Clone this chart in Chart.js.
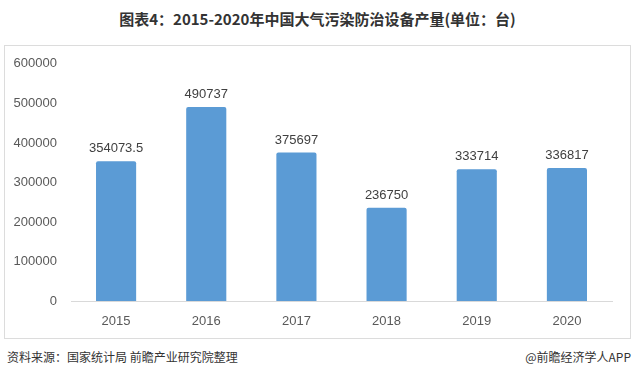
<!DOCTYPE html>
<html><head><meta charset="utf-8">
<script src="https://cdn.jsdelivr.net/npm/chart.js@4.4.1/dist/chart.umd.min.js"></script>
<style>
html,body{margin:0;padding:0;background:#fff;width:635px;height:382px;overflow:hidden;font-family:"Noto Sans CJK SC",sans-serif;}
#title{position:absolute;left:0;top:8px;width:635px;text-align:center;font-size:15px;font-weight:bold;color:#333;}
#frame{position:absolute;left:4px;top:45px;width:625px;height:292px;border:1px solid #dcdcdc;}
#wrap{position:absolute;left:0;top:-4px;width:625px;height:296px;}
#src{position:absolute;left:7px;top:348px;font-size:12px;color:#333;}
#app{position:absolute;right:4px;top:348px;font-size:12px;color:#333;}
</style></head><body>
<div id="title">图表4：2015-2020年中国大气污染防治设备产量(单位：台)</div>
<div id="frame"><div id="wrap"><canvas id="c" width="625" height="296"></canvas></div></div>
<div id="src">资料来源：国家统计局 前瞻产业研究院整理</div>
<div id="app">@前瞻经济学人APP</div>
<script>
const categories = ["2015","2016","2017","2018","2019","2020"];
const production = [354073.5, 490737, 375697, 236750, 333714, 336817];
const valueLabels = ["354073.5","490737","375697","236750","333714","336817"];

const labelPlugin = {
  id:'vlabels',
  afterDatasetsDraw(chart){
    const ctx = chart.ctx;
    const meta = chart.getDatasetMeta(0);
    ctx.save();
    ctx.font = '13px "Liberation Sans", sans-serif';
    ctx.fillStyle = '#404040';
    ctx.textAlign = 'center';
    ctx.textBaseline = 'bottom';
    meta.data.forEach((bar,i)=>{
      ctx.fillText(valueLabels[i], bar.x, bar.y - 6);
    });
    ctx.restore();
  }
};

new Chart(document.getElementById('c'), {
  type:'bar',
  data:{labels:categories, datasets:[{data:production, backgroundColor:'#5B9BD5', borderRadius:2, borderSkipped:'bottom', categoryPercentage:1, barPercentage:0.445}]},
  options:{
    responsive:false, animation:false,
    layout:{padding:{left:0,right:18,top:2,bottom:-3}},
    plugins:{legend:{display:false}, tooltip:{enabled:false}},
    scales:{
      x:{
        grid:{display:false, drawTicks:false},
        border:{display:true, color:'#d9d9d9', z:1},
        ticks:{color:'#595959', font:{family:'"Liberation Sans", sans-serif', size:13}, padding:12}
      },
      y:{
        min:0, max:600000,
        grid:{display:false, drawTicks:false},
        border:{display:false},
        afterFit(s){ s.width = 66; },
        ticks:{stepSize:100000, color:'#595959', font:{family:'"Liberation Sans", sans-serif', size:13}, padding:14, callback:v=>String(v)}
      }
    }
  },
  plugins:[labelPlugin]
});
</script>
</body></html>
